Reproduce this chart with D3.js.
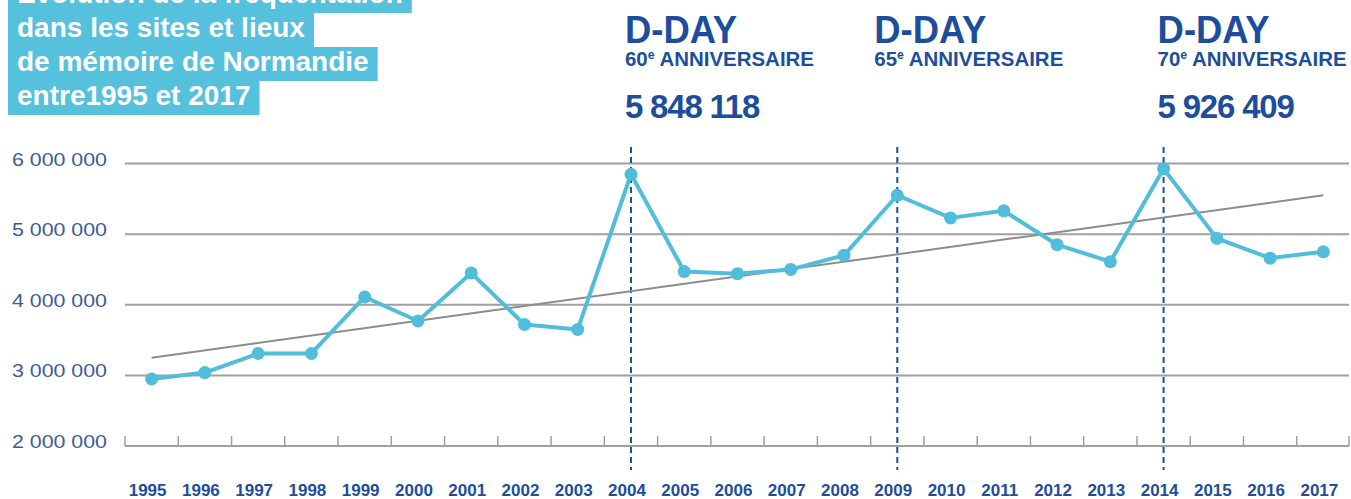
<!DOCTYPE html>
<html>
<head>
<meta charset="utf-8">
<script src="https://cdn.jsdelivr.net/npm/d3@7"></script>
<style>
  body { margin: 0; background: #fff; }
  svg { display: block; font-family: "Liberation Sans", Arial, sans-serif; }
</style>
</head>
<body>
<svg id="chart" width="1351" height="499"></svg>
<script>
// data
const years = [1995, 1996, 1997, 1998, 1999, 2000, 2001, 2002, 2003, 2004, 2005, 2006,
               2007, 2008, 2009, 2010, 2011, 2012, 2013, 2014, 2015, 2016, 2017];
const visitors = [2950000, 3040000, 3310000, 3310000, 4110000, 3770000, 4450000, 3720000,
                  3650000, 5848118, 4470000, 4440000, 4500000, 4700000, 5550000, 5230000,
                  5330000, 4850000, 4610000, 5926409, 4940000, 4660000, 4750000];
const trendYears = [1995, 2017];
const trendValues = [3250000, 5550000];
const yTicks = [2000000, 3000000, 4000000, 5000000, 6000000];

const titleLines = ["Évolution de la fréquentation", "dans les sites et lieux",
                    "de mémoire de Normandie", "entre1995 et 2017"];

const ddayYears = [2004, 2009, 2014];
const ddayRanks = ["60", "65", "70"];
const ddayTotals = ["5 848 118", "", "5 926 409"];
const ddayShift = [-6, -23, -6];

const blue = "#1d4e9b";
const cyan = "#50bedb";

const svg = d3.select("#chart");

const x = d3.scaleBand().domain(years).range([125, 1350]);
const y = d3.scaleLinear().domain([2000000, 6000000]).range([446, 163.5]);
const cx = d => x(d) + x.bandwidth() / 2;

const fmt = v => d3.format(",")(v).replace(/,/g, " ");

// gridlines
svg.append("g")
  .selectAll("line")
  .data(yTicks.slice(1))
  .enter().append("line")
    .attr("x1", 125).attr("x2", 1349)
    .attr("y1", d => y(d)).attr("y2", d => y(d))
    .attr("stroke", "#a0a0a0")
    .attr("stroke-width", 2);

// y labels
svg.append("g")
  .selectAll("text")
  .data(yTicks)
  .enter().append("text")
    .attr("x", 12)
    .attr("y", d => y(d) + 2)
    .attr("textLength", 95)
    .attr("lengthAdjust", "spacingAndGlyphs")
    .attr("font-size", 18)
    .attr("fill", "#3d5c9a")
    .text(fmt);

// bottom axis line with ticks at band edges
svg.append("line")
  .attr("x1", 125).attr("x2", 1349)
  .attr("y1", y(2000000)).attr("y2", y(2000000))
  .attr("stroke", "#a0a0a0").attr("stroke-width", 2);

const edges = years.map(d => x(d)).concat([x(years[years.length - 1]) + x.step()]);
svg.append("g")
  .selectAll("line")
  .data(edges)
  .enter().append("line")
    .attr("x1", d => Math.min(d, 1349)).attr("x2", d => Math.min(d, 1349))
    .attr("y1", y(2000000)).attr("y2", y(2000000) - 10)
    .attr("stroke", "#a0a0a0").attr("stroke-width", 1.5);

// year labels
svg.append("g")
  .selectAll("text")
  .data(years)
  .enter().append("text")
    .attr("x", d => cx(d) - 4)
    .attr("y", 496)
    .attr("text-anchor", "middle")
    .attr("font-size", 17)
    .attr("font-weight", "bold")
    .attr("fill", blue)
    .text(d => d);

// D-Day dashed markers
svg.append("g")
  .selectAll("line")
  .data(ddayYears)
  .enter().append("line")
    .attr("x1", cx).attr("x2", cx)
    .attr("y1", 147).attr("y2", 470)
    .attr("stroke", blue)
    .attr("stroke-width", 2)
    .attr("stroke-dasharray", "6,4");

// trend line
svg.append("line")
  .attr("x1", cx(trendYears[0])).attr("y1", y(trendValues[0]))
  .attr("x2", cx(trendYears[1])).attr("y2", y(trendValues[1]))
  .attr("stroke", "#8c8c8c")
  .attr("stroke-width", 2);

// series
const line = d3.line().x((d, i) => cx(years[i])).y(d => y(d));
svg.append("path")
  .datum(visitors)
  .attr("d", line)
  .attr("fill", "none")
  .attr("stroke", cyan)
  .attr("stroke-width", 4)
  .attr("stroke-linejoin", "round");

svg.append("g")
  .selectAll("circle")
  .data(visitors)
  .enter().append("circle")
    .attr("cx", (d, i) => cx(years[i]))
    .attr("cy", d => y(d))
    .attr("r", 6.5)
    .attr("fill", cyan);

// D-Day headings
const heads = svg.append("g")
  .selectAll("g")
  .data(ddayYears)
  .enter().append("g")
    .attr("transform", (d, i) => `translate(${cx(d) + ddayShift[i]},0)`);

heads.append("text")
  .attr("y", 43)
  .attr("font-size", 38)
  .attr("font-weight", "bold")
  .attr("fill", blue)
  .attr("textLength", 112)
  .attr("lengthAdjust", "spacingAndGlyphs")
  .text("D-DAY");

const sub = heads.append("text")
  .attr("y", 66)
  .attr("font-size", 20)
  .attr("font-weight", "bold")
  .attr("fill", blue)
  .attr("textLength", 189)
  .attr("lengthAdjust", "spacingAndGlyphs");
sub.append("tspan").text((d, i) => ddayRanks[i]);
sub.append("tspan").attr("font-size", 12).attr("dy", -7).text("e");
sub.append("tspan").attr("dy", 7).text(" ANNIVERSAIRE");

heads.append("text")
  .attr("y", 118)
  .attr("font-size", 33)
  .attr("font-weight", "bold")
  .attr("fill", blue)
  .attr("letter-spacing", -1.2)
  .text((d, i) => ddayTotals[i]);

// title block
const title = svg.append("g");
titleLines.forEach((t, i) => {
  const base = 3 + i * 34;
  const g = title.append("g");
  const rect = g.append("rect").attr("fill", "#55c1dd");
  const txt = g.append("text")
    .attr("x", 17)
    .attr("y", base)
    .attr("font-size", 28)
    .attr("font-weight", "bold")
    .attr("fill", "#fff")
    .text(t);
  const w = txt.node().getComputedTextLength();
  rect.attr("x", 8).attr("y", base - 24).attr("width", w + 18).attr("height", 34);
});
</script>
</body>
</html>
